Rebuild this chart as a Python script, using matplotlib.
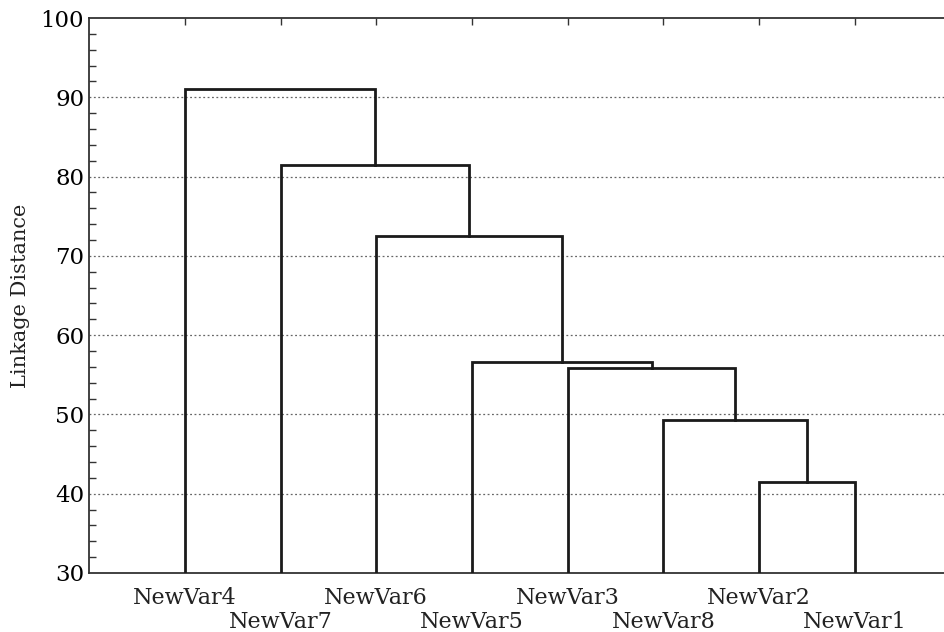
import matplotlib.pyplot as plt
from matplotlib.ticker import MultipleLocator

plt.rcParams['font.family'] = ['DejaVu Serif']

# leaf order as drawn, left to right
leaves = ['NewVar4', 'NewVar7', 'NewVar6', 'NewVar5',
          'NewVar3', 'NewVar8', 'NewVar2', 'NewVar1']
# merges: (left node, right node, linkage distance); nodes 0-7 are leaves,
# node 8 is the first merge, 9 the second, and so on
merges = [(6, 7, 41.5),
          (5, 8, 49.3),
          (4, 9, 55.8),
          (3, 10, 56.6),
          (2, 11, 72.5),
          (1, 12, 81.4),
          (0, 13, 91.0)]

fig = plt.figure(figsize=(9.44, 6.32), dpi=100)
ax = fig.add_axes([0.0943, 0.0934, 0.9057, 0.8781])

pos = {i: i + 1 for i in range(len(leaves))}
hgt = {i: 30.0 for i in range(len(leaves))}
for k, (a, b, h) in enumerate(merges):
    node = len(leaves) + k
    ax.plot([pos[a], pos[a], pos[b], pos[b]], [hgt[a], h, h, hgt[b]],
            color='#1a1a1a', lw=2.0, solid_joinstyle='miter', zorder=3)
    pos[node] = (pos[a] + pos[b]) / 2
    hgt[node] = h

ax.set_xlim(0, 8.93)
ax.set_ylim(30, 100)
ax.yaxis.set_major_locator(MultipleLocator(10))
ax.yaxis.set_minor_locator(MultipleLocator(2))
ax.tick_params(axis='y', which='both', direction='in', length=5, width=1,
               labelsize=16.5, color='#333333')
ax.tick_params(axis='y', which='major', length=0)
for y in range(40, 100, 10):
    ax.axhline(y, color='#666666', lw=0.9, ls=(0, (1.5, 2)), zorder=1)

xs = list(range(1, len(leaves) + 1))
ax.set_xticks(xs)
ax.set_xticklabels([])
ax.tick_params(axis='x', which='both', bottom=False, top=True, direction='in',
               length=5, width=1, color='#333333')
for i, (x, name) in enumerate(zip(xs, leaves)):
    yy = -0.045 if i % 2 == 0 else -0.088
    ax.text(x, yy, name, transform=ax.get_xaxis_transform(), ha='center',
            va='center', fontsize=16, color='#222222')

ax.spines['right'].set_visible(False)
for s in ['left', 'top', 'bottom']:
    ax.spines[s].set_color('#333333')
    ax.spines[s].set_linewidth(1.3)

ax.set_ylabel('Linkage Distance', fontsize=15, color='#222222', labelpad=8)

fig.savefig('out.png', dpi=100)
